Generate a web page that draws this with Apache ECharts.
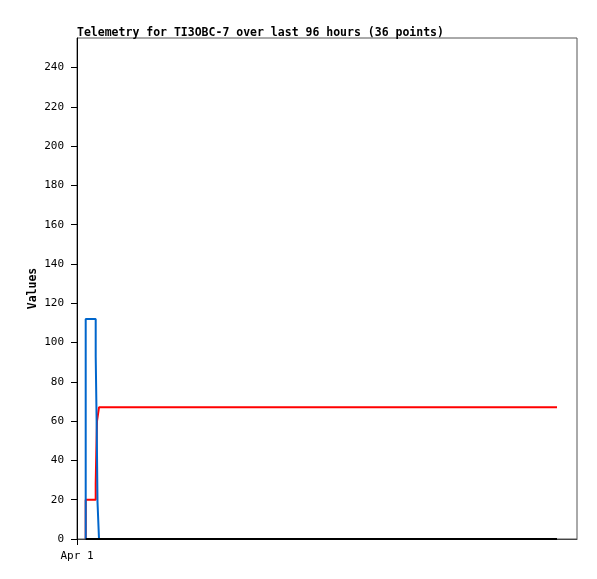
<!DOCTYPE html>
<html>
<head>
<meta charset="utf-8">
<script src="https://cdn.jsdelivr.net/npm/echarts@6/dist/echarts.min.js"></script>
<style>
  html, body { margin: 0; padding: 0; background: #fff; }
  #chart { width: 597px; height: 579px; }
</style>
</head>
<body>
<div id="chart"></div>
<script>
// hours since Apr 1 00:00
var xTickHours = [0];
var xTickLabels = ['Apr 1'];
var yTicks = [0, 20, 40, 60, 80, 100, 120, 140, 160, 180, 200, 220, 240];

var redHours = [1.74, 3.74, 3.86, 4.0, 4.4, 96];
var redValues = [0, 20, 28, 44, 60, 67];

var blueHours = [1.74, 3.74, 3.94, 4.1, 4.4, 96];
var blueValues = [0, 112, 93, 57, 19, 0];

var blackHours = [1.74, 96];
var blackValues = [0, 0];

function pairs(xs, ys) {
    var res = [];
    for (var i = 0; i < xs.length; i++) res.push([xs[i], ys[i]]);
    return res;
}

var font = 'DejaVu Sans Mono, monospace';
var chart = echarts.init(document.getElementById('chart'));
var option = {
    animation: false,
    backgroundColor: '#fff',
    title: {
        text: 'Telemetry for TI3OBC-7 over last 96 hours (36 points)',
        left: 72,
        top: 22,
        textStyle: { fontFamily: font, fontSize: 11.5, fontWeight: 'bold', color: '#000' }
    },
    grid: {
        left: 77, right: 20, top: 38, bottom: 40,
        show: true, borderColor: '#555', borderWidth: 1, backgroundColor: '#fff'
    },
    xAxis: {
        type: 'value',
        min: 0,
        max: 100,
        splitLine: { show: false },
        axisLine: { lineStyle: { color: '#444', width: 1 } },
        axisTick: { customValues: xTickHours, length: 6, lineStyle: { color: '#000' } },
        axisLabel: {
            customValues: xTickHours,
            formatter: function (v) {
                var i = xTickHours.indexOf(v);
                return i >= 0 ? xTickLabels[i] : '';
            },
            fontFamily: font, fontSize: 11, color: '#000', margin: 12
        }
    },
    yAxis: {
        type: 'value',
        min: 0,
        max: 255,
        name: 'Values',
        nameLocation: 'middle',
        nameGap: 38,
        nameMoveOverlap: false,
        nameTextStyle: { fontFamily: font, fontSize: 11.5, fontWeight: 'bold', color: '#000' },
        splitLine: { show: false },
        axisLine: { show: true, lineStyle: { color: '#000', width: 1 } },
        axisTick: { show: true, customValues: yTicks, length: 6, lineStyle: { color: '#000' } },
        axisLabel: { customValues: yTicks, fontFamily: font, fontSize: 11, color: '#000', margin: 13 }
    },
    series: [
        {
            type: 'line', step: 'start', showSymbol: false,
            data: pairs(redHours, redValues),
            lineStyle: { color: '#ff0000', width: 2 }
        },
        {
            type: 'line', step: 'start', showSymbol: false,
            data: pairs(blueHours, blueValues),
            lineStyle: { color: '#0066cc', width: 2 }
        },
        {
            type: 'line', step: 'start', showSymbol: false,
            data: pairs(blackHours, blackValues),
            lineStyle: { color: '#000', width: 2 }
        }
    ]
};
chart.setOption(option);
</script>
</body>
</html>
